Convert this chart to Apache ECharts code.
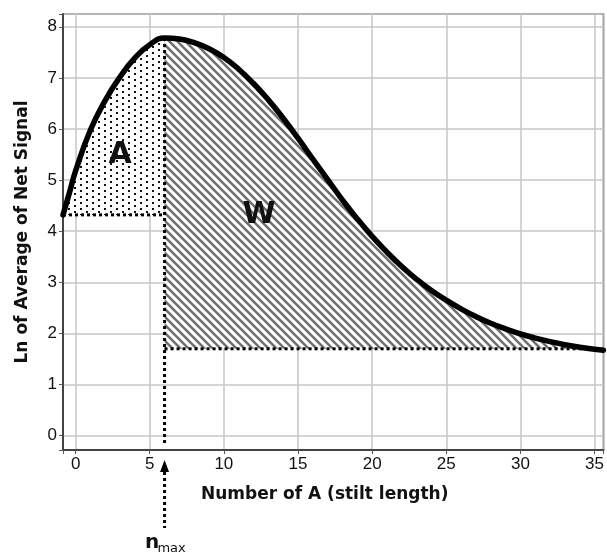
<!DOCTYPE html>
<html><head><meta charset="utf-8">
<script src="https://cdn.jsdelivr.net/npm/echarts@6/dist/echarts.min.js"></script>
<style>html,body{margin:0;padding:0;background:#fff}#c{width:607px;height:554px}</style>
</head><body><div id="c"></div>
<script>
// ---- data ----
const curveX = [-0.85,-0.4,0,1,2,3,4,5,6,7,8,9,10,11,12,13,14,15,16,17,18,19,20,21,22,23,24,25,26,27,28,29,30,31,32,33,34,35,35.6];
const curveY = [4.32,4.77,5.18,5.98,6.56,7.02,7.39,7.65,7.78,7.76,7.69,7.57,7.40,7.17,6.89,6.57,6.21,5.82,5.41,5.01,4.61,4.24,3.90,3.59,3.31,3.06,2.84,2.65,2.48,2.33,2.20,2.09,1.99,1.91,1.84,1.78,1.73,1.69,1.67];
const nMax = 6;
const baseA = 4.32;
const baseW = 1.7;
const vLineBottom = -0.15;
const xRange = [-0.85, 35.6];
const yRange = [-0.28, 8.25];
const labelA = ['A', 3.0, 5.48];
const labelW = ['W', 12.38, 4.31];
const xTitle = 'Number of A (stilt length)';
const yTitle = 'Ln of Average of Net Signal';
const nLabel = ['n', 'max'];

// ---- patterns ----
function hatchPattern(){
  const s = 8, c = document.createElement('canvas'); c.width = c.height = s;
  const g = c.getContext('2d');
  g.fillStyle = '#fff'; g.fillRect(0,0,s,s);
  g.strokeStyle = '#707070'; g.lineWidth = 2.6; g.beginPath();
  for (const k of [-s, 0, s]) { g.moveTo(-1, -1 + k); g.lineTo(s + 1, s + 1 + k); }
  g.stroke();
  return c;
}
function dotPattern(){
  const c = document.createElement('canvas'); c.width = 12; c.height = 6;
  const g = c.getContext('2d');
  g.fillStyle = '#fff'; g.fillRect(0,0,12,6);
  g.fillStyle = '#111'; g.fillRect(2,1,2,2); g.fillRect(8,4,2,2);
  return c;
}

const pts = curveX.map((x, i) => [x, curveY[i]]);
const iPeak = curveX.indexOf(nMax);
const ptsA = pts.slice(0, iPeak + 1);
const ptsW = pts.slice(iPeak);
const peakY = curveY[iPeak];

const dotted = {type: 'dotted', width: 3, color: '#000'};
const chart = echarts.init(document.getElementById('c'));
const tickFont = {fontSize: 17, color: '#111', fontFamily: 'Liberation Sans'};
const titleFont = {fontFamily: 'DejaVu Sans', fontWeight: 'bold', fontSize: 17, color: '#111'};

chart.setOption({
  animation: false,
  backgroundColor: '#fff',
  grid: {left: 63, right: 0, top: 14, bottom: 104, show: true, borderColor: '#5a5a5a', borderWidth: 1.5},
  xAxis: {
    type: 'value', min: xRange[0], max: xRange[1], splitNumber: 7,
    axisLine: {show: true, onZero: false, lineStyle: {color: '#444', width: 2}},
    axisTick: {show: true, length: 4, lineStyle: {color: '#555'}},
    axisLabel: Object.assign({margin: 6, formatter: v => Math.abs(v/5 - Math.round(v/5)) < 1e-6 ? String(Math.round(v)) : ''}, tickFont),
    splitLine: {show: true, lineStyle: {color: '#c6c6c6', width: 1.5}},
    name: xTitle, nameLocation: 'middle', nameGap: 36,
    nameTextStyle: Object.assign({padding: [0, 17, 0, 0]}, titleFont)
  },
  yAxis: {
    type: 'value', min: yRange[0], max: yRange[1], splitNumber: 8,
    axisLine: {show: true, onZero: false, lineStyle: {color: '#444', width: 2}},
    axisTick: {show: true, length: 4, lineStyle: {color: '#555'}},
    axisLabel: Object.assign({margin: 6, formatter: v => Math.abs(v - Math.round(v)) < 1e-6 ? String(Math.round(v)) : ''}, tickFont),
    splitLine: {show: true, lineStyle: {color: '#c6c6c6', width: 1.5}},
    name: yTitle, nameLocation: 'middle', nameGap: 32, nameTextStyle: titleFont
  },
  series: [
    {type: 'line', data: ptsA, smooth: true, symbol: 'none', z: 2,
     lineStyle: {width: 0, opacity: 0},
     areaStyle: {color: {image: dotPattern(), repeat: 'repeat'}, origin: baseA, opacity: 1}},
    {type: 'line', data: ptsW, smooth: true, symbol: 'none', z: 2,
     lineStyle: {width: 0, opacity: 0},
     areaStyle: {color: {image: hatchPattern(), repeat: 'repeat'}, origin: baseW, opacity: 1}},
    {type: 'line', data: [[curveX[0], baseA], [nMax, baseA]], symbol: 'none', z: 3, lineStyle: dotted},
    {type: 'line', data: [[nMax, peakY], [nMax, vLineBottom]], symbol: 'none', z: 3, lineStyle: dotted},
    {type: 'line', data: [[nMax, baseW], [xRange[1], baseW]], symbol: 'none', z: 3, lineStyle: dotted},
    {type: 'line', data: pts, smooth: true, symbol: 'none', z: 4,
     lineStyle: {width: 5.5, color: '#000', cap: 'round', join: 'round'}}
  ]
});

const pA = chart.convertToPixel({gridIndex: 0}, [labelA[1], labelA[2]]);
const pW = chart.convertToPixel({gridIndex: 0}, [labelW[1], labelW[2]]);
const px = chart.convertToPixel({xAxisIndex: 0}, nMax);
const yb = chart.convertToPixel({yAxisIndex: 0}, yRange[0]);
const bigFont = 'bold 30px "DejaVu Sans"';
chart.setOption({
  graphic: [
    {type: 'text', x: pA[0], y: pA[1], z: 10, style: {text: labelA[0], font: bigFont, fill: '#111', align: 'center', verticalAlign: 'middle'}},
    {type: 'text', x: pW[0], y: pW[1], z: 10, style: {text: labelW[0], font: bigFont, fill: '#111', align: 'center', verticalAlign: 'middle'}},
    {type: 'polygon', z: 10, shape: {points: [[px, yb + 10], [px - 4.5, yb + 22], [px + 4.5, yb + 22]]}, style: {fill: '#000'}},
    {type: 'line', z: 10, shape: {x1: px, y1: yb + 22, x2: px, y2: yb + 78}, style: {stroke: '#000', lineWidth: 3, lineDash: [3, 3]}},
    {type: 'text', x: px - 12.5, y: yb + 93, z: 10, style: {text: nLabel[0], font: 'bold 20px "DejaVu Sans"', fill: '#111', align: 'center', verticalAlign: 'middle'}},
    {type: 'text', x: px + 7, y: yb + 99, z: 10, style: {text: nLabel[1], font: '13px "DejaVu Sans"', fill: '#111', align: 'center', verticalAlign: 'middle'}}
  ]
});
</script>
</body></html>
